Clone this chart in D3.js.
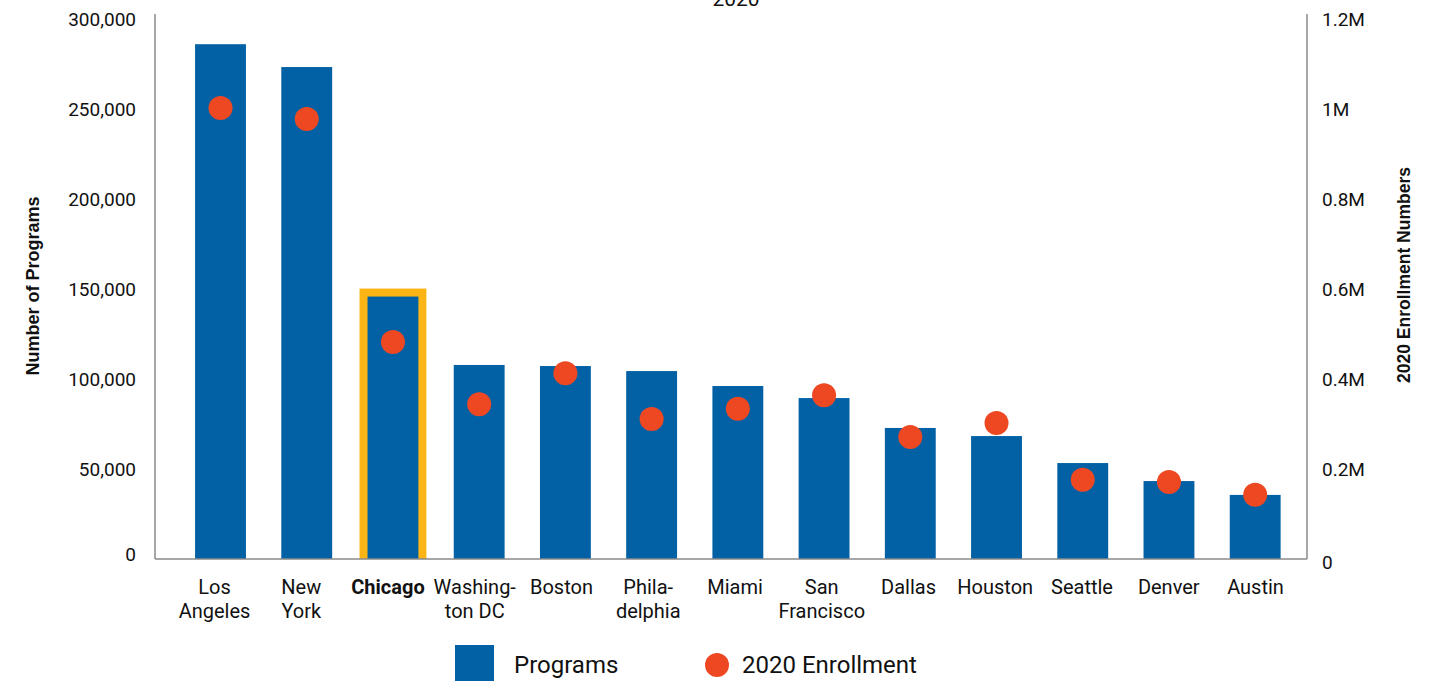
<!DOCTYPE html>
<html>
<head>
<meta charset="utf-8">
<script src="https://cdn.jsdelivr.net/npm/d3@7"></script>
<style>
  html, body { margin: 0; padding: 0; background: #fff; }
  svg { display: block; font-family: Roboto, "Noto Sans", sans-serif; }
</style>
</head>
<body>
<svg id="chart" width="1437" height="681"></svg>
<script>
const cities = [
  ["Los", "Angeles"], ["New", "York"], ["Chicago"], ["Washing-", "ton DC"], ["Boston"],
  ["Phila-", "delphia"], ["Miami"], ["San", "Francisco"], ["Dallas"], ["Houston"],
  ["Seattle"], ["Denver"], ["Austin"]
];
const programs = [286000, 273300, 145800, 107800, 107200, 104400, 96100, 89400, 72800, 68300, 53300, 43300, 35600];
const enrollment = [1002000, 978000, 482000, 344000, 413000, 311000, 334000, 364000, 271000, 302000, 176000, 171000, 143000];
const leftTicks = [0, 50000, 100000, 150000, 200000, 250000, 300000];
const rightTicks = [0, 200000, 400000, 600000, 800000, 1000000, 1200000];
const rightTickLabels = ["0", "0.2M", "0.4M", "0.6M", "0.8M", "1M", "1.2M"];
const highlightIndex = 2;

const svg = d3.select("#chart");
const blue = "#0260A5", orange = "#EE4823", yellow = "#FDB515", axisGray = "#8a8a8a";
const plotL = 155, plotR = 1307, plotT = 19, plotB = 559;

const x = d3.scaleBand().domain(d3.range(cities.length)).range([177.4, 1298.3]).paddingInner(0.41).paddingOuter(0.205);
const xLab = d3.scalePoint().domain(d3.range(cities.length)).range([214.5, 1255.5]);
const yL = d3.scaleLinear().domain([0, 300000]).range([plotB, plotT]);
const yR = d3.scaleLinear().domain([0, 1200000]).range([plotB, plotT]);

// title
svg.append("text").attr("x", 736).attr("y", 6).attr("text-anchor", "middle")
  .attr("font-size", 21).attr("fill", "#111").text("2020");

// highlight frame
const hi = highlightIndex;
svg.append("rect")
  .attr("x", x(hi) - 8).attr("y", yL(programs[hi]) - 8)
  .attr("width", x.bandwidth() + 16).attr("height", plotB - yL(programs[hi]) + 8)
  .attr("fill", yellow);

// bars
svg.selectAll("rect.bar").data(programs).join("rect").attr("class", "bar")
  .attr("x", (d, i) => x(i)).attr("y", d => yL(d))
  .attr("width", x.bandwidth()).attr("height", d => plotB - yL(d))
  .attr("fill", blue);

// dots
svg.selectAll("circle.dot").data(enrollment).join("circle").attr("class", "dot")
  .attr("cx", (d, i) => x(i) + x.bandwidth() / 2).attr("cy", d => yR(d))
  .attr("r", 12).attr("fill", orange);

// axes lines
const axes = svg.append("g").attr("stroke", axisGray).attr("stroke-width", 1.5).attr("fill", "none");
axes.append("line").attr("x1", plotL).attr("x2", plotL).attr("y1", 14).attr("y2", plotB);
axes.append("line").attr("x1", plotR).attr("x2", plotR).attr("y1", 14).attr("y2", plotB);
axes.append("line").attr("x1", plotL).attr("x2", plotR).attr("y1", plotB).attr("y2", plotB);

// left axis
const leftAxis = d3.axisLeft(yL).tickValues(leftTicks).tickSize(0).tickPadding(19)
  .tickFormat(d3.format(","));
const gl = svg.append("g").attr("transform", `translate(${plotL},0)`).call(leftAxis);
gl.select(".domain").remove();
gl.selectAll("text").attr("font-size", 19).attr("fill", "#111").attr("font-family", "Roboto");
gl.selectAll(".tick").filter(d => d === 0).select("text").attr("dy", "0.1em");

// right axis
const rightAxis = d3.axisRight(yR).tickValues(rightTicks).tickSize(0).tickPadding(15)
  .tickFormat((d, i) => rightTickLabels[i]);
const gr = svg.append("g").attr("transform", `translate(${plotR},0)`).call(rightAxis);
gr.select(".domain").remove();
gr.selectAll("text").attr("font-size", 19).attr("fill", "#111").attr("font-family", "Roboto");
gr.selectAll(".tick").filter(d => d === 0).select("text").attr("dy", "0.5em");

// x labels
const xl = svg.append("g");
cities.forEach((lines, i) => {
  const t = xl.append("text")
    .attr("x", xLab(i)).attr("y", 594)
    .attr("text-anchor", "middle").attr("font-size", 20).attr("fill", "#111")
    .attr("font-weight", i === highlightIndex ? "bold" : "normal");
  lines.forEach((ln, j) => {
    t.append("tspan").attr("x", xLab(i)).attr("dy", j === 0 ? 0 : 24).text(ln);
  });
});

// axis titles
svg.append("text").attr("transform", "translate(39,286) rotate(-90)")
  .attr("text-anchor", "middle").attr("font-size", 18).attr("font-weight", "bold")
  .attr("font-family", "'Liberation Sans', Arial, sans-serif")
  .attr("fill", "#111").text("Number of Programs");
svg.append("text").attr("transform", "translate(1410,275) rotate(-90)")
  .attr("text-anchor", "middle").attr("font-size", 17.5).attr("font-weight", "bold")
  .attr("font-family", "'Liberation Sans', Arial, sans-serif")
  .attr("fill", "#111").text("2020 Enrollment Numbers");

// legend
const lg = svg.append("g");
lg.append("rect").attr("x", 455).attr("y", 645).attr("width", 39).attr("height", 39).attr("fill", blue);
lg.append("text").attr("x", 514).attr("y", 673).attr("font-size", 24).attr("fill", "#111").text("Programs");
lg.append("circle").attr("cx", 717).attr("cy", 665).attr("r", 12).attr("fill", orange);
lg.append("text").attr("x", 742).attr("y", 673).attr("font-size", 24).attr("fill", "#111").text("2020 Enrollment");
</script>
</body>
</html>
